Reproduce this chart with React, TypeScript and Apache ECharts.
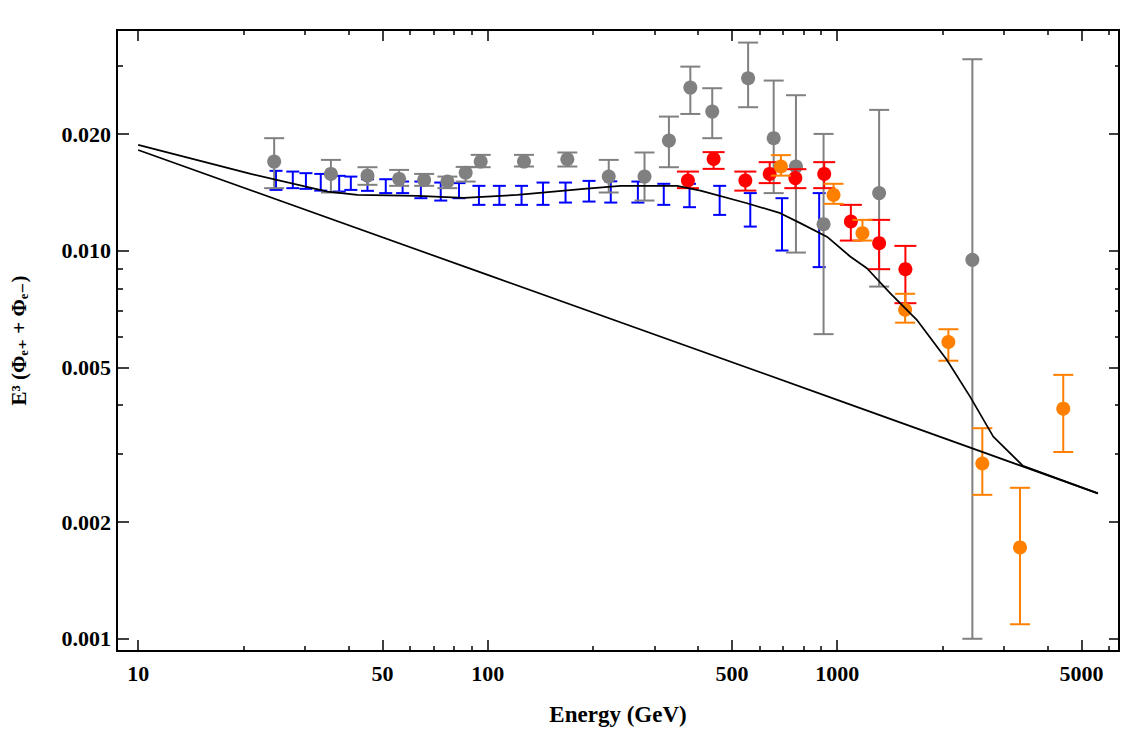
import React, { useEffect, useRef } from "react";
import * as echarts from "echarts";

// ---- axis ticks ----
const xMajorTicks = [10, 50, 100, 500, 1000, 5000];
const xMinorTicks = [20, 30, 40, 60, 70, 80, 90, 200, 300, 400, 600, 700, 800, 900, 2000, 3000, 4000, 6000];
const yMajorTicks = [0.001, 0.002, 0.005, 0.01, 0.02];
const yMinorTicks = [0.003, 0.004, 0.006, 0.007, 0.008, 0.009, 0.03];
const xRange = [8.7, 6400];
const yRange = [0.00093, 0.0371];

// ---- gray data set ----
const grayEnergy = [24.5, 35.6, 45.3, 55.8, 65.8, 76.7, 86.5, 95.5, 127, 169, 222, 281, 330, 380, 439, 556, 658, 762, 914, 1318, 2436];
const grayFlux = [0.01699, 0.01579, 0.01563, 0.01533, 0.01524, 0.01509, 0.01591, 0.01699, 0.01699, 0.01723, 0.01554, 0.01554, 0.01924, 0.02636, 0.02286, 0.02787, 0.01952, 0.0165, 0.01172, 0.01409, 0.00948];
const grayHigh = [0.01952, 0.01716, 0.01643, 0.01617, 0.01579, 0.01554, 0.01646, 0.01768, 0.01768, 0.01793, 0.01716, 0.01793, 0.02219, 0.02985, 0.02626, 0.03443, 0.02748, 0.02519, 0.02002, 0.02309, 0.03119];
const grayLow = [0.01451, 0.01414, 0.0148, 0.01471, 0.01471, 0.01451, 0.01509, 0.01643, 0.0165, 0.0165, 0.01414, 0.01348, 0.01643, 0.02254, 0.01952, 0.02346, 0.01409, 0.0099, 0.0061, 0.00809, 0.001];

// ---- red data set ----
const redEnergy = [374, 443, 546, 641, 759, 918, 1094, 1318, 1567];
const redFlux = [0.01518, 0.01726, 0.01518, 0.01579, 0.0154, 0.01579, 0.0119, 0.01047, 0.00897];
const redHigh = [0.01601, 0.01797, 0.01601, 0.01693, 0.01624, 0.01693, 0.01314, 0.01202, 0.0103];
const redLow = [0.01451, 0.01627, 0.0143, 0.01495, 0.01451, 0.01451, 0.01063, 0.00897, 0.00733];

// ---- orange data set ----
const orangeEnergy = [690, 976, 1181, 1564, 2080, 2601, 3334, 4433];
const orangeFlux = [0.0165, 0.01394, 0.01111, 0.00705, 0.00582, 0.00283, 0.00172, 0.00392];
const orangeHigh = [0.01765, 0.01489, 0.01202, 0.00775, 0.00628, 0.00349, 0.00245, 0.00479];
const orangeLow = [0.01563, 0.01322, 0.01063, 0.00653, 0.00521, 0.00235, 0.00109, 0.00303];

// ---- blue data set (error bars only) ----
const blueEnergy = [24.8, 27.7, 30.2, 33.3, 37.6, 40.6, 45.3, 51.1, 57.1, 64.4, 73.4, 82.8, 94.4, 108, 125, 144, 167, 195, 225, 269, 319, 378, 461, 564, 695, 888];
const blueHigh = [0.01608, 0.01601, 0.01586, 0.01579, 0.01561, 0.01554, 0.0153, 0.0153, 0.01509, 0.01509, 0.015, 0.01495, 0.01471, 0.01471, 0.01471, 0.015, 0.015, 0.01515, 0.01511, 0.01509, 0.01489, 0.01489, 0.01471, 0.01409, 0.01367, 0.01409];
const blueLow = [0.01436, 0.01451, 0.01445, 0.0143, 0.01422, 0.01436, 0.01428, 0.01409, 0.01409, 0.01367, 0.01348, 0.01367, 0.01314, 0.01314, 0.01314, 0.01314, 0.01332, 0.0134, 0.01332, 0.01332, 0.01314, 0.01296, 0.01238, 0.01155, 0.01002, 0.00908];

// ---- model curves ----
const modelEnergy = [10, 21.0, 34.8, 42.4, 63.0, 85.4, 121.6, 188.4, 239.9, 348.3, 406.1, 552.1, 687.4, 784.1, 934.5, 1089, 1216, 1417, 1689, 2058, 2399, 2796, 3400, 5570];
const modelFlux = [0.01876, 0.01579, 0.01422, 0.01394, 0.01386, 0.01369, 0.01394, 0.01445, 0.01471, 0.01471, 0.0143, 0.01327, 0.01251, 0.01179, 0.01088, 0.00967, 0.00902, 0.00778, 0.00664, 0.00524, 0.00421, 0.00332, 0.00279, 0.00237];
const backgroundEnergy = [10, 100, 1000, 5570];
const backgroundFlux = [0.0182, 0.00867, 0.00413, 0.00237];

const lg = (v: number) => Math.log10(v);
const FONT = "'Liberation Serif', 'DejaVu Serif', serif";

function nearest(list: number[], logv: number) {
  let best = list[0];
  let d = Infinity;
  for (const t of list) {
    const dd = Math.abs(lg(t) - logv);
    if (dd < d) {
      d = dd;
      best = t;
    }
  }
  return best;
}

function errorBars(name: string, es: number[], lows: number[], highs: number[], color: string, cap: number, width: number, z: number) {
  return {
    type: "custom",
    name,
    z,
    silent: true,
    clip: true,
    xAxisIndex: 0,
    yAxisIndex: 0,
    encode: { x: 0, y: [1, 2] },
    data: es.map((e, i) => [lg(e), lg(lows[i]), lg(highs[i])]),
    renderItem: (_params: any, api: any) => {
      const x = api.value(0);
      const a = api.coord([x, api.value(1)]);
      const b = api.coord([x, api.value(2)]);
      const h = cap / 2;
      const st = { stroke: color, lineWidth: width, fill: null };
      return {
        type: "group",
        children: [
          { type: "line", shape: { x1: a[0], y1: a[1], x2: b[0], y2: b[1] }, style: st },
          { type: "line", shape: { x1: a[0] - h, y1: a[1], x2: a[0] + h, y2: a[1] }, style: st },
          { type: "line", shape: { x1: b[0] - h, y1: b[1], x2: b[0] + h, y2: b[1] }, style: st },
        ],
      };
    },
  };
}

function dots(name: string, es: number[], fl: number[], color: string, z: number) {
  return {
    type: "scatter",
    name,
    z,
    silent: true,
    symbol: "circle",
    symbolSize: 14,
    itemStyle: { color, opacity: 1 },
    xAxisIndex: 0,
    yAxisIndex: 0,
    data: es.map((e, i) => [lg(e), lg(fl[i])]),
  };
}

function curve(name: string, es: number[], fl: number[], z: number) {
  return {
    type: "line",
    name,
    z,
    silent: true,
    showSymbol: false,
    symbol: "none",
    lineStyle: { color: "#000", width: 1.7 },
    xAxisIndex: 0,
    yAxisIndex: 0,
    data: es.map((e, i) => [lg(e), lg(fl[i])]),
  };
}

export default function App() {
  const ref = useRef<HTMLDivElement>(null);
  useEffect(() => {
    if (!ref.current) return;
    const chart = echarts.init(ref.current, undefined, { renderer: "svg" });
    const xMin = lg(xRange[0]);
    const xMax = lg(xRange[1]);
    const yMin = lg(yRange[0]);
    const yMax = lg(yRange[1]);
    const labelStyle = { fontFamily: FONT, fontSize: 22, fontWeight: "bold", color: "#000" };
    const tickLine = { color: "#000", width: 1.5 };

    const xAx = (position: string, ticks: number[], len: number, withLabel: boolean) => ({
      type: "value",
      min: xMin,
      max: xMax,
      position,
      axisLine: { show: false, onZero: false },
      splitLine: { show: false },
      axisTick: { show: true, inside: true, length: len, lineStyle: tickLine, customValues: ticks.map(lg) },
      axisLabel: withLabel
        ? {
            show: true,
            customValues: ticks.map(lg),
            margin: 11,
            formatter: (v: number) => String(nearest(ticks, v)),
            ...labelStyle,
          }
        : { show: false },
      ...(withLabel
        ? {
            name: "Energy (GeV)",
            nameLocation: "middle",
            nameGap: 52,
            nameTextStyle: { fontFamily: FONT, fontSize: 23, fontWeight: "bold", color: "#000" },
          }
        : {}),
    });

    const yAx = (position: string, ticks: number[], len: number, withLabel: boolean) => ({
      type: "value",
      min: yMin,
      max: yMax,
      position,
      axisLine: { show: false, onZero: false },
      splitLine: { show: false },
      axisTick: { show: true, inside: true, length: len, lineStyle: tickLine, customValues: ticks.map(lg) },
      axisLabel: withLabel
        ? {
            show: true,
            customValues: ticks.map(lg),
            margin: 6,
            formatter: (v: number) => nearest(ticks, v).toFixed(3),
            ...labelStyle,
          }
        : { show: false },
      ...(withLabel
        ? {
            name: "E³ (Φₑ₊ + Φₑ₋)",
            nameLocation: "middle",
            nameRotate: 90,
            nameGap: 88,
            nameTextStyle: { fontFamily: FONT, fontSize: 21, fontWeight: "bold", color: "#000" },
          }
        : {}),
    });

    chart.setOption({
      animation: false,
      backgroundColor: "#fff",
      grid: {
        left: 116,
        right: 12,
        top: 30,
        bottom: 83,
        show: true,
        borderColor: "#000",
        borderWidth: 2,
        backgroundColor: "transparent",
        containLabel: false,
      },
      xAxis: [
        xAx("bottom", xMajorTicks, 11, true),
        xAx("bottom", xMinorTicks, 5, false),
        xAx("top", xMajorTicks, 11, false),
        xAx("top", xMinorTicks, 5, false),
      ],
      yAxis: [
        yAx("left", yMajorTicks, 12, true),
        yAx("left", yMinorTicks, 6, false),
        yAx("right", yMajorTicks, 10, false),
        yAx("right", yMinorTicks, 4, false),
      ],
      series: [
        errorBars("blue", blueEnergy, blueLow, blueHigh, "#0000ff", 13, 2, 2),
        errorBars("gray", grayEnergy, grayLow, grayHigh, "#808080", 20, 2, 3),
        dots("grayDots", grayEnergy, grayFlux, "#808080", 4),
        errorBars("red", redEnergy, redLow, redHigh, "#ff0000", 22, 2, 5),
        dots("redDots", redEnergy, redFlux, "#ff0000", 6),
        errorBars("orange", orangeEnergy, orangeLow, orangeHigh, "#ff8000", 20, 2, 7),
        dots("orangeDots", orangeEnergy, orangeFlux, "#ff8000", 8),
        curve("background", backgroundEnergy, backgroundFlux, 9),
        curve("model", modelEnergy, modelFlux, 9),
      ],
    });
    return () => chart.dispose();
  }, []);
  return (
    <div
      ref={ref}
      style={{ position: "fixed", left: 0, top: 0, width: 1131, height: 734, background: "#fff" }}
    />
  );
}
